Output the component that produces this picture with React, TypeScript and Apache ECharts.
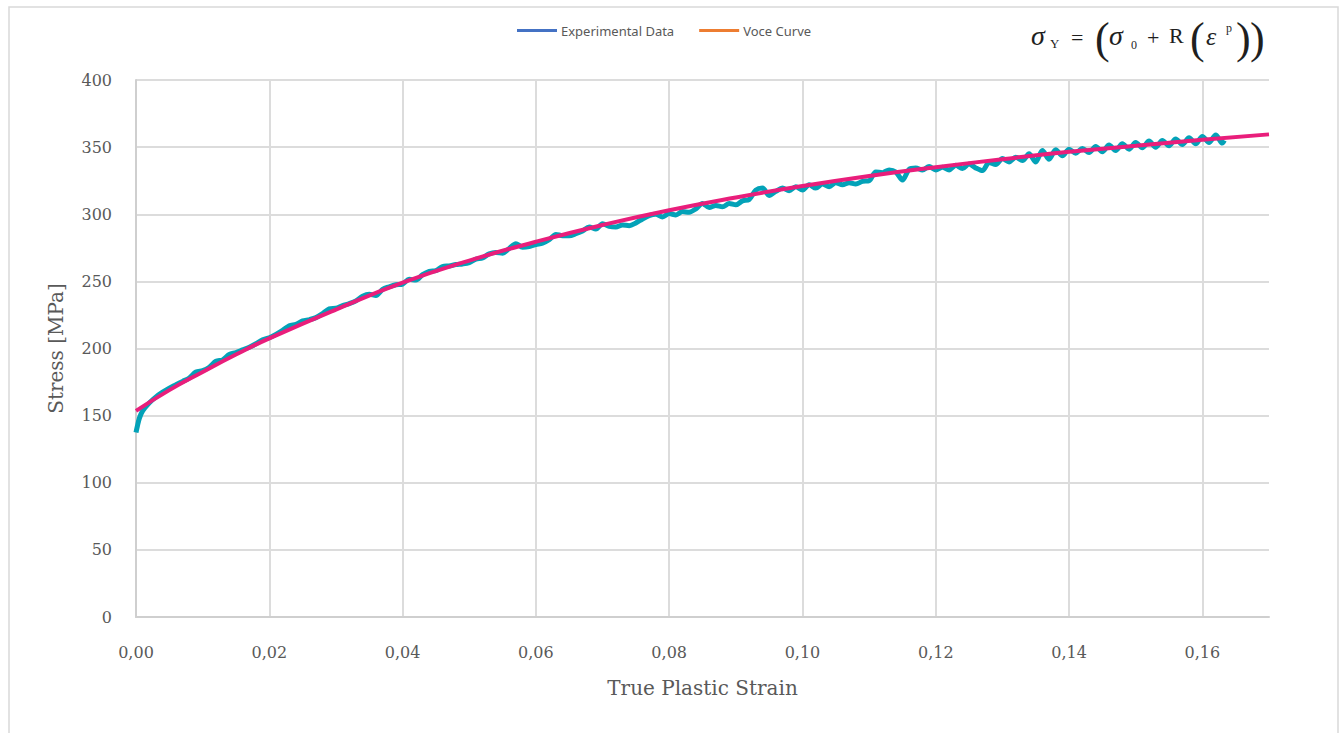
import React, { useEffect, useRef } from "react";
import * as echarts from "echarts";

const legendNames = ["Experimental Data", "Voce Curve"];
const legendColors = ["#4472C4", "#ED7D31"];
const lineColors = ["#03A2B8", "#E91E7B"];

const xTicks = { min: 0, max: 0.17, interval: 0.02 };
const yTicks = { min: 0, max: 400, interval: 50 };

const experimental: number[][] = [
  [0, 137.5], [0.0002, 142], [0.0005, 148], [0.001, 153.5], [0.002, 159.5], [0.003, 164], [0.004, 167.5], [0.005, 170.5],
  [0.006, 173], [0.007, 175.5], [0.008, 178], [0.009, 182.5], [0.010, 183.5], [0.011, 186], [0.012, 190.5], [0.013, 191.5],
  [0.014, 195.5], [0.015, 197], [0.016, 199], [0.017, 201], [0.018, 203.5], [0.019, 206.5], [0.020, 208], [0.021, 210.5],
  [0.022, 213.5], [0.023, 217], [0.024, 218], [0.025, 220.5], [0.026, 221.5], [0.027, 223], [0.028, 226], [0.029, 229.5],
  [0.030, 230], [0.031, 232], [0.032, 233.5], [0.033, 235.5], [0.034, 239], [0.035, 240.5], [0.036, 239.5], [0.037, 244],
  [0.038, 246], [0.039, 247.5], [0.040, 248], [0.041, 251.5], [0.042, 251], [0.043, 255], [0.044, 257.5], [0.045, 258],
  [0.046, 261], [0.047, 261.5], [0.048, 262.5], [0.049, 263], [0.050, 264], [0.051, 266.5], [0.052, 267.5], [0.053, 270.5],
  [0.054, 271.5], [0.055, 271], [0.056, 274.5], [0.057, 278], [0.058, 275.5], [0.059, 276], [0.060, 277.5], [0.061, 278.5],
  [0.062, 281], [0.063, 285], [0.064, 284], [0.065, 284], [0.066, 285.5], [0.067, 287.5], [0.068, 290.5], [0.069, 289],
  [0.070, 293], [0.071, 291], [0.072, 290.5], [0.073, 292], [0.074, 291.5], [0.075, 293.5], [0.076, 296.5], [0.077, 299],
  [0.078, 300], [0.079, 298], [0.080, 300.5], [0.081, 299.5], [0.082, 302], [0.083, 301.5], [0.084, 304], [0.085, 308],
  [0.086, 305], [0.087, 306.5], [0.088, 305.5], [0.089, 308], [0.090, 307], [0.091, 310], [0.092, 311], [0.093, 318],
  [0.094, 319.5], [0.095, 314], [0.096, 317], [0.097, 319.5], [0.098, 317.5], [0.099, 320.5], [0.100, 318], [0.101, 322],
  [0.102, 319.5], [0.103, 322.5], [0.104, 320.5], [0.105, 323.5], [0.106, 322], [0.107, 323.5], [0.108, 322.5], [0.109, 324.5],
  [0.110, 325], [0.111, 331.5], [0.112, 331], [0.113, 333], [0.114, 331.5], [0.115, 325.5], [0.116, 333.5], [0.117, 334.5],
  [0.118, 333], [0.119, 335.5], [0.120, 333], [0.121, 335], [0.122, 333], [0.123, 336.5], [0.124, 334], [0.125, 337.5],
  [0.126, 334.5], [0.127, 332.5], [0.128, 338.5], [0.129, 337], [0.130, 341.5], [0.131, 339], [0.132, 342.5], [0.133, 340],
  [0.134, 345], [0.135, 339], [0.136, 347.5], [0.137, 341], [0.138, 348], [0.139, 343.5], [0.140, 348.5], [0.141, 345.5],
  [0.142, 349], [0.143, 346], [0.144, 350.5], [0.145, 346.5], [0.146, 351.5], [0.147, 347.5], [0.148, 352.5], [0.149, 348.5],
  [0.150, 353.5], [0.151, 349.5], [0.152, 354.5], [0.153, 350], [0.154, 355], [0.155, 351], [0.156, 356], [0.157, 352],
  [0.158, 357], [0.159, 352.5], [0.160, 358], [0.161, 353.5], [0.162, 359], [0.163, 353], [0.1633, 355],
];

const voce: number[][] = [
  [0, 153.5], [0.005, 169], [0.01, 182.5], [0.015, 195.5], [0.02, 207.5], [0.03, 229], [0.04, 249], [0.05, 265.5],
  [0.06, 279.5], [0.07, 292], [0.08, 303], [0.09, 312.5], [0.1, 321], [0.11, 328.5], [0.12, 335], [0.13, 341],
  [0.14, 346.5], [0.15, 351], [0.16, 355.5], [0.17, 359.5],
];

const SERIF = "'DejaVu Serif', serif";
const MATH = "'Liberation Serif', serif";
const INK = "#1f1f1f";

function ftext(x: number, y: number, text: string, size: number, italic = false) {
  return {
    type: "text",
    x,
    y,
    style: {
      text,
      fill: INK,
      font: `${italic ? "italic " : ""}${size}px ${MATH}`,
      textAlign: "left",
      textVerticalAlign: "middle",
    },
  };
}

export default function App() {
  const ref = useRef<HTMLDivElement>(null);
  useEffect(() => {
    const chart = echarts.init(ref.current!, null, { renderer: "svg" });
    chart.setOption({
      animation: false,
      backgroundColor: "#ffffff",
      legend: {
        left: 512,
        top: 19,
        icon: "rect",
        itemWidth: 40,
        itemHeight: 3,
        itemGap: 25,
        textStyle: { color: "#595959", fontSize: 13, fontFamily: "'Noto Sans', sans-serif", padding: [0, 0, 0, -1] },
        data: legendNames.map((n, i) => ({ name: n, itemStyle: { color: legendColors[i] } })),
      },
      grid: { left: 136, right: 71, top: 80, bottom: 116, containLabel: false },
      xAxis: {
        type: "value",
        min: xTicks.min,
        max: xTicks.max,
        interval: xTicks.interval,
        name: "True Plastic Strain",
        nameLocation: "middle",
        nameGap: 61,
        nameTextStyle: { color: "#595959", fontSize: 20, fontFamily: SERIF },
        axisLine: { show: true, lineStyle: { color: "#CFCFCF", width: 2 } },
        axisTick: { show: false },
        axisLabel: {
          color: "#595959",
          fontSize: 16,
          fontFamily: SERIF,
          margin: 27,
          showMaxLabel: false,
          formatter: (v: number) => (v > 0.165 ? "" : v.toFixed(2).replace(".", ",")),
        },
        splitLine: { show: true, showMaxLine: false, lineStyle: { color: "#DCDCDC", width: 2 } },
      },
      yAxis: {
        type: "value",
        min: yTicks.min,
        max: yTicks.max,
        interval: yTicks.interval,
        name: "Stress [MPa]",
        nameLocation: "middle",
        nameGap: 70,
        nameTextStyle: { color: "#595959", fontSize: 20, fontFamily: SERIF },
        axisLine: { show: true, lineStyle: { color: "#CFCFCF", width: 2 } },
        axisTick: { show: false },
        axisLabel: { color: "#595959", fontSize: 16, fontFamily: SERIF, margin: 24 },
        splitLine: { show: true, lineStyle: { color: "#DCDCDC", width: 2 } },
      },
      graphic: [
        {
          type: "rect",
          shape: { x: 9, y: 7, width: 1329, height: 760 },
          style: { fill: "none", stroke: "#D9D9D9", lineWidth: 1.5 },
          silent: true,
        },
        ftext(1031, 35, "σ", 28, true),
        ftext(1050, 43, "Y", 13),
        ftext(1071, 37, "=", 22),
        ftext(1095, 38, "(", 44),
        ftext(1109, 35, "σ", 28, true),
        ftext(1131, 45, "0", 12),
        ftext(1147, 37, "+", 22),
        ftext(1169, 35, "R", 22),
        ftext(1190, 38, "(", 44),
        ftext(1206, 36, "ε", 26, true),
        ftext(1226, 28, "p", 12),
        ftext(1236, 38, ")", 44),
        ftext(1250, 38, ")", 44),
      ],
      series: [
        {
          name: legendNames[0],
          type: "line",
          data: experimental,
          showSymbol: false,
          smooth: 0.3,
          itemStyle: { color: legendColors[0] },
          lineStyle: { color: lineColors[0], width: 5 },
          z: 2,
        },
        {
          name: legendNames[1],
          type: "line",
          data: voce,
          showSymbol: false,
          smooth: true,
          itemStyle: { color: legendColors[1] },
          lineStyle: { color: lineColors[1], width: 4 },
          z: 3,
        },
      ],
    });
    return () => chart.dispose();
  }, []);
  return <div ref={ref} style={{ position: "fixed", left: 0, top: 0, width: 1340, height: 733 }} />;
}
